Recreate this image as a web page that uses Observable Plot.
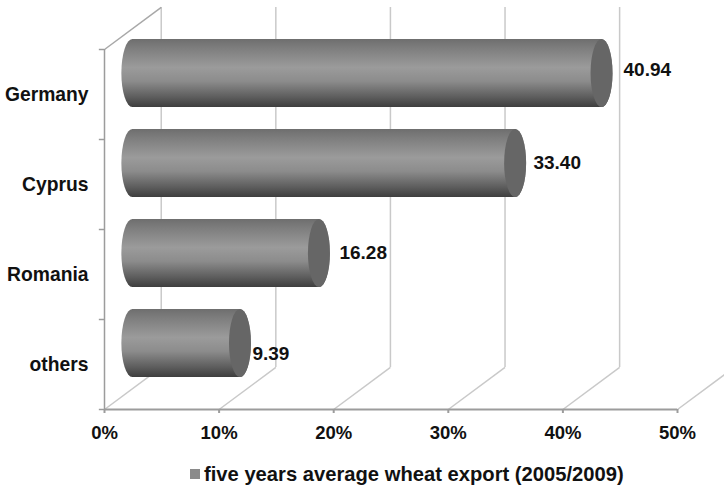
<!DOCTYPE html>
<html>
<head>
<meta charset="utf-8">
<script src="https://cdn.jsdelivr.net/npm/d3@7"></script>
<script src="https://cdn.jsdelivr.net/npm/@observablehq/plot@0.6"></script>
<style>
html,body{margin:0;padding:0;background:#fff;}
#legend{height:25px;width:724px;position:relative;font:bold 20.2px "Liberation Sans",Arial,sans-serif;color:#111;white-space:nowrap;}
#legend i{position:absolute;left:190px;top:9px;width:10px;height:10px;background:#8a8a8a;}
#legend span{position:absolute;left:204px;top:4px;line-height:20px;}
svg{display:block;}
</style>
</head>
<body>
<div id="chart"></div>
<div id="legend"><i></i><span>five years average wheat export (2005/2009)</span></div>
<script>
const categories = ["Germany", "Cyprus", "Romania", "others"];
const values = [40.94, 33.40, 16.28, 9.39];
const valueLabels = ["40.94", "33.40", "16.28", "9.39"];
const labelShiftX = [4.35, 4.03, 4.22, 3.52];
const labelShiftY = [0.278, 0.244, 0.244, 0.122];
const xTicks = [0, 10, 20, 30, 40, 50];
const yBoundaries = [0, 1, 2, 3, 4];
const legendText = "five years average wheat export (2005/2009)";

// pseudo-3D depth of the chart box, in data units
const depthX = 4.95;
const depthY = 0.467;
const halfBar = 0.378;

const rows = categories.map((name, i) => ({
  name,
  value: values[i],
  label: valueLabels[i],
  pos: categories.length - i - 0.5,
  shiftX: labelShiftX[i],
  shiftY: labelShiftY[i]
}));

const font = '"Liberation Sans", Arial, sans-serif';
const capRx = 11, capRy = 34;

const defs = () => {
  const ns = "http://www.w3.org/2000/svg";
  const d = document.createElementNS(ns, "defs");
  const g = document.createElementNS(ns, "linearGradient");
  g.setAttribute("id", "cyl");
  g.setAttribute("x1", 0); g.setAttribute("x2", 0);
  g.setAttribute("y1", 0); g.setAttribute("y2", 1);
  [[0, "#6e6e6e"], [0.12, "#7c7c7c"], [0.42, "#9b9b9b"], [0.62, "#8c8c8c"], [0.85, "#5e5e5e"], [1, "#3e3e3e"]]
    .forEach(([o, c]) => {
      const s = document.createElementNS(ns, "stop");
      s.setAttribute("offset", o);
      s.setAttribute("stop-color", c);
      g.appendChild(s);
    });
  d.appendChild(g);
  return d;
};

const wall = "#c9c9c9";
const axis = "#9c9c9c";

const chart = Plot.plot({
  width: 724,
  height: 460,
  marginLeft: 104,
  marginRight: 47,
  marginTop: 49,
  marginBottom: 51,
  style: {background: "#fff", fontFamily: font},
  x: {domain: [0, 50]},
  y: {domain: [0, 4]},
  marks: [
    defs,
    // back wall gridlines
    Plot.ruleX(xTicks.slice(0, -1), {
      x: d => d + depthX, y1: depthY, y2: 4 + depthY, stroke: wall, strokeWidth: 1.5
    }),
    // floor gridlines
    Plot.link(xTicks, {
      x1: d => d, x2: d => d + depthX, y1: 0, y2: depthY, stroke: wall, strokeWidth: 1.5
    }),
    // top edge of the side wall
    Plot.link([0], {
      x1: 0, x2: depthX, y1: 4, y2: 4 + depthY, stroke: "#a8a8a8", strokeWidth: 1.5
    }),
    // axis lines
    Plot.ruleX([0], {y1: 0, y2: 4, stroke: axis, strokeWidth: 1.5}),
    Plot.ruleY([0], {x1: 0, x2: 50, stroke: axis, strokeWidth: 2}),
    Plot.axisX({
      ticks: xTicks, tickFormat: d => d + "%", tickSize: 4, tickPadding: 12,
      label: null, stroke: axis, strokeWidth: 2, fontSize: 18.5, fontWeight: "bold", fill: "#111"
    }),
    Plot.ruleY(yBoundaries, {x1: -0.45, x2: 0, y: d => d, stroke: axis, strokeWidth: 1.5}),
    Plot.axisY({
      ticks: rows.map(r => r.pos), tickFormat: p => rows.find(r => r.pos === p).name,
      tickSize: 0, tickPadding: 16, label: null, fontSize: 19.3, fontWeight: "bold", fill: "#111"
    }),
    // cylinder bodies
    Plot.rect(rows, {
      x1: depthX / 2,
      x2: d => d.value + depthX / 2,
      y1: d => d.pos - halfBar + depthY / 2,
      y2: d => d.pos + halfBar + depthY / 2,
      insetLeft: -capRx, insetRight: -capRx,
      rx: capRx, ry: capRy,
      fill: "url(#cyl)"
    }),
    // cylinder end caps
    Plot.rect(rows, {
      x1: d => d.value + depthX / 2,
      x2: d => d.value + depthX / 2,
      y1: d => d.pos - halfBar + depthY / 2,
      y2: d => d.pos + halfBar + depthY / 2,
      insetLeft: -capRx, insetRight: -capRx,
      rx: capRx, ry: capRy,
      fill: "#666666"
    }),
    // value labels
    Plot.text(rows, {
      x: d => d.value + d.shiftX,
      y: d => d.pos + d.shiftY,
      text: "label",
      textAnchor: "start",
      fontSize: 19,
      fontWeight: "bold",
      fill: "#111"
    })
  ]
});
document.getElementById("chart").appendChild(chart);
document.querySelector("#legend span").textContent = legendText;
</script>
</body>
</html>
